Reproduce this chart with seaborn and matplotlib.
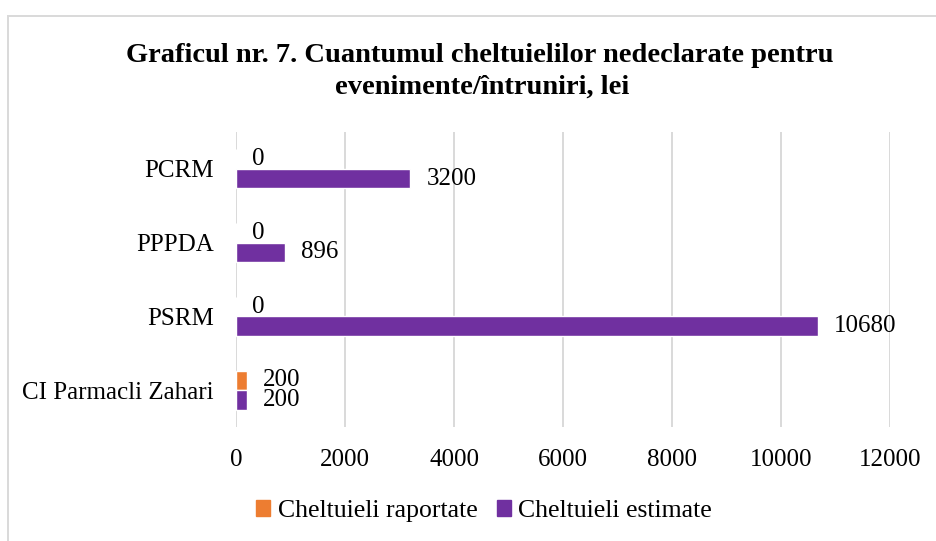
import matplotlib
matplotlib.use("Agg")
import matplotlib.pyplot as plt
import matplotlib.patches as mpatches
import pandas as pd
import seaborn as sns

# Values
parties = ["PCRM", "PPPDA", "PSRM", "CI Parmacli Zahari"]
reported = [0, 0, 0, 200]
estimated = [3200, 896, 10680, 200]
series_names = ["Cheltuieli raportate", "Cheltuieli estimate"]
x_ticks = [0, 2000, 4000, 6000, 8000, 10000, 12000]

colors = {"Cheltuieli raportate": "#ED7D31", "Cheltuieli estimate": "#7030A0"}

df = pd.DataFrame({
    "partid": parties * 2,
    "valoare": reported + estimated,
    "tip": [series_names[0]] * len(parties) + [series_names[1]] * len(parties),
})

sns.set_style("white")
plt.rcParams["font.family"] = ["Liberation Serif", "DejaVu Serif"]
plt.rcParams["text.color"] = "black"
plt.rcParams["xtick.color"] = "black"
plt.rcParams["ytick.color"] = "black"

fig = plt.figure(figsize=(9.36, 5.41), dpi=100)
ax = fig.add_axes([236 / 936, 1 - 427 / 541, 654 / 936, 295 / 541])

sns.barplot(
    data=df, y="partid", x="valoare", hue="tip", order=parties,
    hue_order=series_names, palette=colors, orient="h", width=0.526,
    saturation=1, ax=ax, legend=False,
)

for cont in ax.containers:
    ax.bar_label(cont, fmt="%g", padding=11.5, fontsize=18, color="black")

ax.set_xlim(0, 12000)
ax.set_ylim(3.5, -0.5)
ax.set_xticks(x_ticks)
ax.set_xticklabels([str(t) for t in x_ticks])
ax.xaxis.grid(True, color="#d9d9d9", linewidth=1.4)
ax.yaxis.grid(False)
ax.set_axisbelow(True)
for s in ax.spines.values():
    s.set_visible(False)
ax.tick_params(axis="x", length=0, pad=16, labelsize=18, labelcolor="black")
ax.tick_params(axis="y", length=0, pad=16, labelsize=18, labelcolor="black")
ax.set_xlabel("")
ax.set_ylabel("")

fig.text(480 / 936, 1 - 55 / 541, "Graficul nr. 7. Cuantumul cheltuielilor nedeclarate pentru",
         ha="center", va="center", fontsize=20.5, fontweight="bold", color="black")
fig.text(482 / 936, 1 - 87 / 541, "evenimente/întruniri, lei",
         ha="center", va="center", fontsize=20.5, fontweight="bold", color="black")

handles = [mpatches.Patch(color=colors[n], label=n) for n in series_names]
fig.legend(handles=handles, loc="center", bbox_to_anchor=(484 / 936, 1 - 511 / 541),
           ncol=2, frameon=False, fontsize=18.5, handlelength=0.55, handleheight=0.55,
           handletextpad=0.3, columnspacing=0.75, labelcolor="black")

# light chart-area frame (only the top and left edges are visible in the crop)
frame = mpatches.Rectangle((8 / 936, -0.1), 1.2, 1 - 16 / 541 + 0.1,
                           transform=fig.transFigure, fill=False,
                           edgecolor="#d9d9d9", linewidth=1.4)
fig.patches.append(frame)

fig.savefig("out.png", dpi=100)
